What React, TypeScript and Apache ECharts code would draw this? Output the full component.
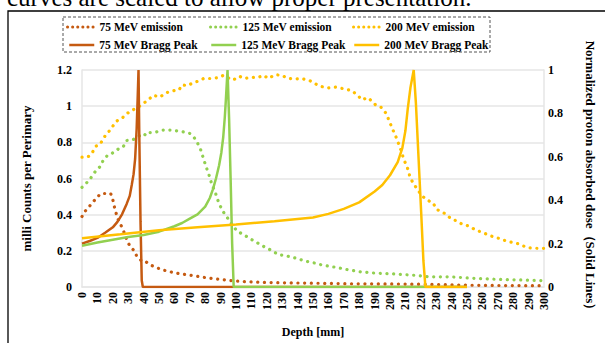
import React, { useEffect, useRef } from "react";
import * as echarts from "echarts";

// x-axis tick labels: depth [mm]
const depthTicks = { min: 0, max: 300, step: 10 };
const leftTicks = { min: 0, max: 1.2, step: 0.2 };
const rightTicks = { min: 0, max: 1, step: 0.2 };

const seriesNames = [
  "75 MeV emission",
  "125 MeV emission",
  "200 MeV emission",
  "75 MeV Bragg Peak",
  "125 MeV Bragg Peak",
  "200 MeV Bragg Peak",
];

// emission [depth mm, milli counts per primary]
const em75 = [
  [0, 0.39], [2.1, 0.42], [4.9, 0.447], [7.6, 0.474], [9.7, 0.495], [12.3, 0.517],
  [16, 0.517], [18.6, 0.517], [19.7, 0.495], [20.7, 0.454], [21.8, 0.42], [22.8, 0.386],
  [24.5, 0.354], [26.6, 0.32], [28, 0.284], [30.2, 0.24], [32.3, 0.214], [34.5, 0.196],
  [35.5, 0.17], [38.7, 0.144], [40.8, 0.144], [44, 0.123], [48, 0.109], [52, 0.095],
  [55.6, 0.088], [58.8, 0.081], [63, 0.074], [70.4, 0.065], [80, 0.052], [89.6, 0.042],
  [99, 0.033], [110, 0.028], [125, 0.024], [150, 0.021], [175, 0.018], [200, 0.017],
  [225, 0.015], [250, 0.01], [275, 0.008], [300, 0.007],
];

const em125 = [
  [0, 0.551], [2.7, 0.574], [4.9, 0.591], [7, 0.621], [9.7, 0.649], [12.3, 0.67],
  [13.5, 0.696], [16.5, 0.728], [18.6, 0.735], [22.4, 0.754], [25, 0.775], [27, 0.779],
  [29, 0.81], [33, 0.814], [39.7, 0.849], [41.8, 0.837], [44, 0.854], [47, 0.854],
  [52.4, 0.868], [57.7, 0.868], [64.7, 0.86], [70, 0.849], [72.7, 0.828], [74.8, 0.8],
  [77, 0.76], [78.5, 0.72], [80, 0.68], [81.6, 0.64], [83.3, 0.6], [84.3, 0.565],
  [86.4, 0.53], [87.5, 0.495], [89.6, 0.451], [91.7, 0.416], [94.9, 0.377], [98, 0.337],
  [101.3, 0.305], [104.4, 0.293], [108.6, 0.27], [112.9, 0.249], [118.2, 0.223],
  [122.4, 0.205], [127.7, 0.179], [131.9, 0.174], [138.2, 0.161], [144.6, 0.144],
  [149.9, 0.135], [156, 0.121], [164.7, 0.109], [173, 0.095], [181.6, 0.083], [190, 0.077],
  [198.5, 0.074], [207, 0.07], [215.4, 0.065], [226, 0.056], [240, 0.056], [250, 0.05],
  [270, 0.042], [290, 0.038], [300, 0.035],
];

const em200 = [
  [0, 0.718], [3.4, 0.718], [5.9, 0.731], [9, 0.779], [11.2, 0.785], [13.3, 0.81],
  [15.4, 0.842], [18.2, 0.867], [20.7, 0.898], [22.8, 0.919], [26, 0.933], [28, 0.951],
  [31.3, 0.972], [35.5, 0.99], [38, 1.004], [40.8, 1.021], [43.6, 1.039], [46.1, 1.06],
  [48.2, 1.056], [50.7, 1.05], [53.5, 1.068], [56.2, 1.079], [59.8, 1.086], [63, 1.09],
  [65, 1.118], [68.3, 1.113], [71.5, 1.126], [75.9, 1.14], [79, 1.153], [83.3, 1.153],
  [88.6, 1.158], [91.7, 1.17], [98, 1.144], [102.3, 1.165], [105.5, 1.153], [109.7, 1.16],
  [114, 1.158], [118, 1.17], [121, 1.153], [125.5, 1.174], [129.8, 1.17], [134, 1.153],
  [138, 1.15], [142.5, 1.153], [147.7, 1.142], [154, 1.112], [159.4, 1.1], [164.7, 1.105],
  [170, 1.096], [175.2, 1.086], [179.5, 1.056], [181.6, 1.035], [185.8, 1.047], [191, 1.004],
  [194.3, 0.993], [197.5, 0.96], [199.6, 0.916], [201.7, 0.872], [203.8, 0.832],
  [206.5, 0.772], [209, 0.705], [211.2, 0.662], [213.3, 0.6], [216.5, 0.556], [220.7, 0.504],
  [225, 0.477], [228, 0.465], [230.2, 0.43], [235.5, 0.407], [239.7, 0.377], [244, 0.363],
  [247, 0.346], [251.3, 0.337], [255.5, 0.316], [259.8, 0.302], [266, 0.281], [270.3, 0.27],
  [275.6, 0.254], [283, 0.24], [289.4, 0.217], [295.7, 0.214], [300, 0.214],
];

// Bragg peaks [depth mm, normalized dose]
const bragg75 = [
  [0, 0.2], [5, 0.212], [10, 0.226], [15, 0.25], [20, 0.275], [23, 0.3], [26, 0.335],
  [29, 0.383], [31, 0.42], [32.3, 0.47], [33.5, 0.52], [34.5, 0.59], [35.5, 0.73],
  [36.1, 0.86], [36.7, 1.0], [37.2, 0.7], [38, 0.3], [38.8, 0.03], [39.5, 0], [250, 0],
];

const bragg125 = [
  [0, 0.19], [10, 0.205], [20, 0.218], [30, 0.23], [40, 0.24], [50, 0.255], [60, 0.28],
  [65, 0.295], [70, 0.315], [75, 0.335], [80, 0.37], [83, 0.41], [85, 0.45], [87, 0.5],
  [89, 0.56], [90.5, 0.62], [91.7, 0.69], [92.7, 0.78], [93.4, 0.86], [94.5, 1.0],
  [95.5, 0.78], [96.5, 0.5], [97.5, 0.2], [98.5, 0], [250, 0],
];

const bragg200 = [
  [0, 0.225], [25, 0.243], [50, 0.262], [75, 0.275], [100, 0.288], [125, 0.303], [150, 0.32],
  [160, 0.337], [170, 0.36], [180, 0.39], [190, 0.44], [195, 0.47], [200, 0.515],
  [205, 0.575], [208, 0.64], [210, 0.72], [211.5, 0.82], [213.3, 0.92], [215.4, 1.0],
  [216.8, 0.85], [218.5, 0.6], [220.2, 0.35], [221.7, 0.12], [223, 0], [250, 0],
];

const colors = ["#C55A11", "#92D050", "#FFC000"];
const FONT = "'Liberation Serif', 'Times New Roman', serif";

export default function App() {
  const ref = useRef<HTMLDivElement>(null);

  useEffect(() => {
    if (!ref.current) return;
    const chart = echarts.init(ref.current, null, { renderer: "svg" });

    const emissionSeries = [em75, em125, em200].map((d, i) => ({
      name: seriesNames[i],
      type: "line",
      yAxisIndex: 0,
      data: d,
      symbol: "none",
      smooth: false,
      lineStyle: { color: colors[i], width: 3.2, type: [0.1, 6.6], cap: "round" },
      itemStyle: { color: colors[i] },
      z: 2,
    }));
    const braggSeries = [bragg75, bragg125, bragg200].map((d, i) => ({
      name: seriesNames[i + 3],
      type: "line",
      yAxisIndex: 1,
      data: d,
      symbol: "none",
      lineStyle: { color: colors[i], width: 2.5 },
      itemStyle: { color: colors[i] },
      z: 3,
    }));

    const legendPos = [
      { left: 66, top: 21 },
      { left: 209, top: 21 },
      { left: 352, top: 21 },
      { left: 68, top: 39 },
      { left: 210, top: 39 },
      { left: 353, top: 39 },
    ];
    const legends = seriesNames.map((n, i) => ({
      data: [n],
      left: legendPos[i].left,
      top: legendPos[i].top,
      padding: 0,
      itemWidth: i < 3 ? 27 : 25,
      itemHeight: 10,
      itemStyle: { opacity: 0 },
      lineStyle: i < 3 ? { type: [0.1, 5], width: 3, cap: "round" } : { width: 2.5 },
      textStyle: { fontFamily: FONT, fontWeight: "bold", fontSize: 11.5, color: "#000" },
    }));

    const labelStyle = { fontFamily: FONT, fontWeight: "bold", fontSize: 12, color: "#000" };
    const gridLine = { show: true, lineStyle: { color: "#e6e6e6", width: 1.5 } };

    chart.setOption({
      animation: false,
      backgroundColor: "#fff",
      legend: legends,
      grid: { left: 82, right: 50, top: 70, bottom: 45, containLabel: false },
      xAxis: {
        type: "value",
        min: depthTicks.min,
        max: depthTicks.max,
        interval: depthTicks.step,
        name: "Depth [mm]",
        nameLocation: "middle",
        nameGap: 39,
        nameTextStyle: { fontFamily: FONT, fontWeight: "bold", fontSize: 12, color: "#000" },
        axisLine: { show: true, lineStyle: { color: "#e6e6e6", width: 1.5 } },
        axisTick: { show: false },
        splitLine: { show: false },
        axisLabel: { ...labelStyle, rotate: 90, margin: 5 },
      },
      yAxis: [
        {
          type: "value",
          min: leftTicks.min,
          max: leftTicks.max,
          interval: leftTicks.step,
          name: "milli Counts per Perimary",
          nameLocation: "middle",
          nameGap: 49,
          nameRotate: 90,
          nameTextStyle: { fontFamily: FONT, fontWeight: "bold", fontSize: 13, color: "#000" },
          axisLine: { show: true, lineStyle: { color: "#e6e6e6", width: 1.5 } },
          axisTick: { show: false },
          splitLine: gridLine,
          axisLabel: { ...labelStyle, margin: 10 },
        },
        {
          type: "value",
          position: "right",
          min: rightTicks.min,
          max: rightTicks.max,
          interval: rightTicks.step,
          name: "Normalized proton absorbed dose（Solid Lines）",
          nameLocation: "middle",
          nameGap: 40,
          nameRotate: -90,
          nameTextStyle: { fontFamily: FONT, fontWeight: "bold", fontSize: 13, color: "#000" },
          axisLine: { show: true, lineStyle: { color: "#e6e6e6", width: 1.5 } },
          axisTick: { show: false },
          splitLine: { show: false },
          axisLabel: { ...labelStyle, margin: 4, align: "left" },
        },
      ],
      graphic: [
        {
          type: "text",
          left: 7,
          top: -15,
          style: {
            text: "curves are scaled to allow proper presentation.",
            fontFamily: FONT,
            fontSize: 25,
            fill: "#000",
          },
          silent: true,
        },
        {
          type: "rect",
          shape: { x: 8, y: 11, width: 700, height: 400 },
          style: { fill: "none", stroke: "#000", lineWidth: 1.3 },
          silent: true,
        },
        {
          type: "rect",
          shape: { x: 63, y: 17, width: 427, height: 35 },
          style: { fill: "none", stroke: "#555", lineWidth: 1, lineDash: [3, 2] },
          silent: true,
        },
      ],
      series: [...emissionSeries, ...braggSeries],
    });

    return () => chart.dispose();
  }, []);

  return (
    <div
      ref={ref}
      style={{ position: "absolute", left: 0, top: 0, width: 605, height: 343 }}
    />
  );
}
